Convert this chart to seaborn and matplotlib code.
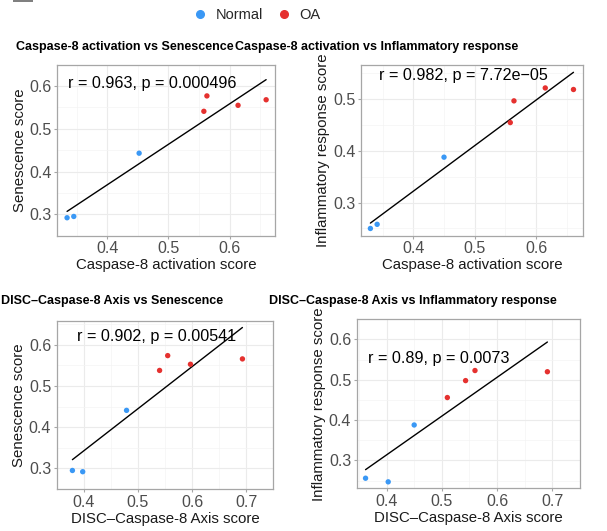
import numpy as np
import pandas as pd
import matplotlib
matplotlib.use("Agg")
import matplotlib.pyplot as plt
import seaborn as sns

sns.set_style("white")
plt.rcParams["font.family"] = ["Liberation Sans", "DejaVu Sans"]

# ---- data -------------------------------------------------------------
groups = ["Normal", "Normal", "Normal", "OA", "OA", "OA", "OA"]

casp8_sen_x = [0.334, 0.345, 0.452, 0.558, 0.563, 0.614, 0.660]
casp8_sen_y = [0.292, 0.295, 0.443, 0.541, 0.577, 0.555, 0.568]

casp8_inf_x = [0.330, 0.341, 0.450, 0.558, 0.564, 0.615, 0.661]
casp8_inf_y = [0.250, 0.258, 0.388, 0.455, 0.497, 0.522, 0.519]

disc_sen_x = [0.379, 0.398, 0.479, 0.540, 0.555, 0.597, 0.693]
disc_sen_y = [0.295, 0.292, 0.441, 0.538, 0.574, 0.553, 0.566]

disc_inf_x = [0.362, 0.403, 0.450, 0.510, 0.543, 0.560, 0.691]
disc_inf_y = [0.256, 0.247, 0.388, 0.456, 0.498, 0.523, 0.520]

titles = [
    "Caspase-8 activation vs Senescence",
    "Caspase-8 activation vs Inflammatory response",
    "DISC\u2013Caspase-8 Axis vs Senescence",
    "DISC\u2013Caspase-8 Axis vs Inflammatory response",
]
xlabels = ["Caspase-8 activation score", "Caspase-8 activation score",
           "DISC\u2013Caspase-8 Axis score", "DISC\u2013Caspase-8 Axis score"]
ylabels = ["Senescence score", "Inflammatory response score",
           "Senescence score", "Inflammatory response score"]
stat_labels = ["r = 0.963, p = 0.000496", "r = 0.982, p = 7.72e\u221205",
               "r = 0.902, p = 0.00541", "r = 0.89, p = 0.0073"]

xticks = [[0.4, 0.5, 0.6], [0.4, 0.5, 0.6],
          [0.4, 0.5, 0.6, 0.7], [0.4, 0.5, 0.6, 0.7]]
yticks = [[0.3, 0.4, 0.5, 0.6], [0.3, 0.4, 0.5],
          [0.3, 0.4, 0.5, 0.6], [0.3, 0.4, 0.5, 0.6]]

palette = {"Normal": "#3A98F5", "OA": "#E5312F"}

# ---- layout -------------------------------------------------------------
W, H = 607, 531
fig = plt.figure(figsize=(W / 100, H / 100), dpi=100)
fig.patch.set_facecolor("white")


def px_axes(left, top, right, bottom):
    return fig.add_axes([left / W, 1 - bottom / H, (right - left) / W,
                         (bottom - top) / H])


panels = [
    dict(box=(57.3, 64.7, 275.3, 235.7), x=casp8_sen_x, y=casp8_sen_y,
         xlim=(0.318, 0.675), ylim=(0.2758, 0.630), txt=(0.336, 0.607),
         title_xy=(16, 47)),
    dict(box=(361, 64.7, 583.3, 235.7), x=casp8_inf_x, y=casp8_inf_y,
         xlim=(0.3147, 0.677), ylim=(0.236, 0.567), txt=(0.344, 0.547),
         title_xy=(235, 47)),
    dict(box=(56.7, 320.7, 273.3, 489), x=disc_sen_x, y=disc_sen_y,
         xlim=(0.3627, 0.7098), ylim=(0.278, 0.6588), txt=(0.387, 0.621),
         title_xy=(1, 301)),
    dict(box=(356.7, 319.3, 580, 488.3), x=disc_inf_x, y=disc_inf_y,
         xlim=(0.346, 0.708), ylim=(0.231, 0.611), txt=(0.366, 0.552),
         title_xy=(269, 301)),
]

tick_color = "#4D4D4D"
grid_major = "#EBEBEB"
grid_minor = "#F4F4F4"
frame_color = "#A6A6A6"

for i, p in enumerate(panels):
    ax = px_axes(*p["box"])
    df = pd.DataFrame({"x": p["x"], "y": p["y"], "group": groups})

    sns.regplot(data=df, x="x", y="y", ax=ax, scatter=False, ci=None,
                truncate=True, line_kws=dict(color="black", lw=1.0))
    sns.scatterplot(data=df, x="x", y="y", hue="group", palette=palette,
                    ax=ax, s=15, edgecolor="none", legend=False, zorder=3)

    ax.set_xlim(*p["xlim"])
    ax.set_ylim(*p["ylim"])
    ax.set_xticks(xticks[i])
    ax.set_yticks(yticks[i])
    ax.set_xticklabels([f"{v:.1f}" for v in xticks[i]])
    ax.set_yticklabels([f"{v:.1f}" for v in yticks[i]])

    # minor grid halfway between major ticks
    xt = xticks[i]
    yt = yticks[i]
    xminor = [xt[0] - 0.05] + [v + 0.05 for v in xt]
    yminor = [yt[0] - 0.05] + [v + 0.05 for v in yt]
    ax.set_xticks(xminor, minor=True)
    ax.set_yticks(yminor, minor=True)
    ax.grid(True, which="major", color=grid_major, lw=0.8, zorder=0)
    ax.grid(True, which="minor", color=grid_minor, lw=0.5, zorder=0)
    ax.set_axisbelow(True)

    ax.tick_params(axis="both", which="major", labelsize=11.5,
                   labelcolor=tick_color, color=frame_color, length=2.5,
                   width=0.8, pad=1.5, direction="out", bottom=True,
                   left=True)
    ax.tick_params(axis="both", which="minor", length=0)

    for s in ax.spines.values():
        s.set_color(frame_color)
        s.set_linewidth(0.9)

    ax.set_xlabel(xlabels[i], fontsize=10.8, color="#1A1A1A", labelpad=1.5)
    ax.set_ylabel(ylabels[i], fontsize=10.8, color="#1A1A1A", labelpad=2)

    ax.text(p["txt"][0], p["txt"][1], stat_labels[i], fontsize=11.6,
            color="black", ha="left", va="center", zorder=4)

    tx, ty = p["title_xy"]
    fig.text(tx / W, 1 - ty / H, titles[i], fontsize=9, fontweight="bold",
             ha="left", va="center", color="black")

# legend row
leg_y = 1 - 15 / H
for cx, grp in [(200, "Normal"), (284, "OA")]:
    fig.add_artist(plt.Line2D([cx / W], [1 - 14 / H], marker="o", ms=5.5,
                              color=palette[grp], lw=0,
                              transform=fig.transFigure))
fig.text(216 / W, leg_y, "Normal", fontsize=10.5, ha="left", va="center")
fig.text(299 / W, leg_y, "OA", fontsize=10.5, ha="left", va="center")

# thin grey bar along the top-left edge
fig.add_artist(plt.Rectangle((13 / W, 1 - 1.5 / H), 20 / W, 1.5 / H,
                             color="#808080", transform=fig.transFigure,
                             lw=0))

fig.savefig("out.png", dpi=100, facecolor="white")
